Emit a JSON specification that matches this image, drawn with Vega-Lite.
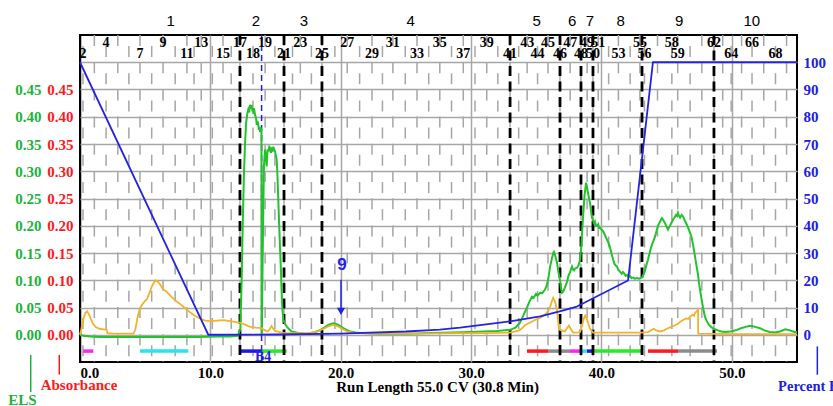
{
  "$schema": "https://vega.github.io/schema/vega-lite/v6.json",
  "width": 717,
  "height": 327,
  "autosize": "none",
  "padding": {"left": 80, "top": 35, "right": 36, "bottom": 44},
  "background": "white",
  "config": {
    "view": {"stroke": "#000000", "strokeWidth": 2},
    "axis": {"labelFont": "Liberation Serif", "labelFontWeight": "bold", "labelFontSize": 15, "domain": false, "ticks": false, "tickSize": 0}
  },
  "datasets": {
    "els": [
      {"cv":0,"v":0.0},{"cv":0.3,"v":-0.002},{"cv":0.8,"v":-0.003},{"cv":1.5,"v":-0.004},{"cv":3,"v":-0.004},{"cv":4.5,"v":-0.004},{"cv":6,"v":-0.004},{"cv":7.5,"v":-0.004},{"cv":9,"v":-0.004},{"cv":10.5,"v":-0.003},{"cv":11.5,"v":-0.003},{"cv":12.1,"v":-0.002},
      {"cv":12.3,"v":0.01},{"cv":12.4,"v":0.1},{"cv":12.48,"v":0.198},{"cv":12.57,"v":0.29},{"cv":12.66,"v":0.352},{"cv":12.75,"v":0.39},{"cv":12.83,"v":0.405},{"cv":12.91,"v":0.413},{"cv":12.98,"v":0.408},{"cv":13.04,"v":0.422},{"cv":13.1,"v":0.417},{"cv":13.17,"v":0.419},{"cv":13.23,"v":0.41},{"cv":13.27,"v":0.413},{"cv":13.31,"v":0.405},{"cv":13.35,"v":0.416},{"cv":13.42,"v":0.404},{"cv":13.5,"v":0.398},{"cv":13.56,"v":0.385},{"cv":13.6,"v":0.392},{"cv":13.66,"v":0.388},{"cv":13.72,"v":0.376},{"cv":13.76,"v":0.382},{"cv":13.82,"v":0.372},{"cv":13.86,"v":0.38},{"cv":13.92,"v":0.376},{"cv":13.93,"v":0.004},{"cv":13.95,"v":0.002},
      {"cv":14.01,"v":0.138},{"cv":14.06,"v":0.23},{"cv":14.11,"v":0.309},{"cv":14.19,"v":0.34},{"cv":14.25,"v":0.33},{"cv":14.32,"v":0.309},{"cv":14.36,"v":0.33},{"cv":14.4,"v":0.34},{"cv":14.46,"v":0.336},{"cv":14.52,"v":0.345},{"cv":14.58,"v":0.343},{"cv":14.65,"v":0.334},{"cv":14.71,"v":0.34},{"cv":14.77,"v":0.336},{"cv":14.83,"v":0.345},{"cv":14.9,"v":0.34},{"cv":14.96,"v":0.336},{"cv":15.02,"v":0.33},{"cv":15.09,"v":0.321},{"cv":15.15,"v":0.29},{"cv":15.21,"v":0.248},{"cv":15.28,"v":0.2},{"cv":15.34,"v":0.162},{"cv":15.41,"v":0.12},{"cv":15.47,"v":0.077},{"cv":15.53,"v":0.045},{"cv":15.6,"v":0.028},{"cv":15.72,"v":0.02},{"cv":15.86,"v":0.015},{"cv":16.05,"v":0.01},{"cv":16.24,"v":0.006},{"cv":16.6,"v":0.004},{"cv":16.88,"v":0.003},{"cv":17.3,"v":0.002},{"cv":17.64,"v":0.002},
      {"cv":17.9,"v":0.004},{"cv":18.16,"v":0.006},{"cv":18.45,"v":0.009},{"cv":18.67,"v":0.012},{"cv":18.85,"v":0.015},{"cv":19.05,"v":0.018},{"cv":19.25,"v":0.02},{"cv":19.43,"v":0.021},{"cv":19.62,"v":0.02},{"cv":19.82,"v":0.018},{"cv":20.0,"v":0.015},{"cv":20.2,"v":0.012},{"cv":20.45,"v":0.009},{"cv":20.7,"v":0.006},{"cv":21.1,"v":0.004},{"cv":21.5,"v":0.003},{"cv":23,"v":0.002},{"cv":25,"v":0.002},{"cv":27,"v":0.003},{"cv":28.5,"v":0.004},{"cv":30,"v":0.005},{"cv":31,"v":0.006},{"cv":32,"v":0.007},{"cv":33,"v":0.009},
      {"cv":33.4,"v":0.013},{"cv":33.75,"v":0.022},{"cv":34.0,"v":0.035},{"cv":34.29,"v":0.05},{"cv":34.5,"v":0.062},{"cv":34.67,"v":0.07},{"cv":34.8,"v":0.068},{"cv":34.98,"v":0.075},{"cv":35.1,"v":0.072},{"cv":35.29,"v":0.077},{"cv":35.45,"v":0.076},{"cv":35.67,"v":0.083},{"cv":35.8,"v":0.09},{"cv":35.9,"v":0.1},{"cv":36.0,"v":0.115},{"cv":36.06,"v":0.125},{"cv":36.2,"v":0.14},{"cv":36.3,"v":0.15},{"cv":36.36,"v":0.152},{"cv":36.45,"v":0.145},{"cv":36.59,"v":0.132},{"cv":36.7,"v":0.115},{"cv":36.82,"v":0.1},{"cv":36.9,"v":0.085},{"cv":36.97,"v":0.077},{"cv":37.05,"v":0.079},{"cv":37.12,"v":0.082},{"cv":37.25,"v":0.09},{"cv":37.36,"v":0.097},{"cv":37.47,"v":0.108},{"cv":37.59,"v":0.115},{"cv":37.66,"v":0.12},{"cv":37.74,"v":0.125},{"cv":37.82,"v":0.12},{"cv":37.9,"v":0.118},{"cv":38.0,"v":0.122},{"cv":38.13,"v":0.123},{"cv":38.25,"v":0.128},{"cv":38.36,"v":0.137},{"cv":38.45,"v":0.16},{"cv":38.52,"v":0.19},{"cv":38.59,"v":0.217},{"cv":38.7,"v":0.255},{"cv":38.82,"v":0.279},{"cv":38.9,"v":0.27},{"cv":38.97,"v":0.26},{"cv":39.05,"v":0.25},{"cv":39.12,"v":0.242},{"cv":39.2,"v":0.228},{"cv":39.27,"v":0.215},{"cv":39.35,"v":0.21},{"cv":39.43,"v":0.205},{"cv":39.5,"v":0.208},{"cv":39.58,"v":0.2},{"cv":39.66,"v":0.2},{"cv":39.75,"v":0.203},{"cv":39.82,"v":0.196},{"cv":39.89,"v":0.196},{"cv":40.0,"v":0.193},{"cv":40.12,"v":0.19},{"cv":40.25,"v":0.184},{"cv":40.35,"v":0.178},{"cv":40.43,"v":0.174},{"cv":40.55,"v":0.168},{"cv":40.66,"v":0.16},{"cv":40.78,"v":0.148},{"cv":40.89,"v":0.138},{"cv":41.0,"v":0.13},{"cv":41.1,"v":0.127},{"cv":41.19,"v":0.125},{"cv":41.3,"v":0.119},{"cv":41.42,"v":0.116},{"cv":41.55,"v":0.112},{"cv":41.65,"v":0.115},{"cv":41.73,"v":0.113},{"cv":41.85,"v":0.108},{"cv":41.96,"v":0.11},{"cv":42.08,"v":0.106},{"cv":42.19,"v":0.108},{"cv":42.3,"v":0.104},{"cv":42.42,"v":0.105},{"cv":42.55,"v":0.103},{"cv":42.73,"v":0.104},{"cv":42.9,"v":0.103},{"cv":43.11,"v":0.105},
      {"cv":43.22,"v":0.11},{"cv":43.34,"v":0.118},{"cv":43.45,"v":0.128},{"cv":43.57,"v":0.138},{"cv":43.7,"v":0.15},{"cv":43.8,"v":0.16},{"cv":43.95,"v":0.17},{"cv":44.11,"v":0.18},{"cv":44.22,"v":0.19},{"cv":44.34,"v":0.2},{"cv":44.5,"v":0.208},{"cv":44.64,"v":0.214},{"cv":44.75,"v":0.21},{"cv":44.87,"v":0.205},{"cv":45.0,"v":0.198},{"cv":45.1,"v":0.193},{"cv":45.18,"v":0.197},{"cv":45.26,"v":0.2},{"cv":45.38,"v":0.206},{"cv":45.49,"v":0.211},{"cv":45.6,"v":0.215},{"cv":45.72,"v":0.22},{"cv":45.8,"v":0.218},{"cv":45.87,"v":0.224},{"cv":45.95,"v":0.218},{"cv":46.03,"v":0.215},{"cv":46.15,"v":0.22},{"cv":46.26,"v":0.217},{"cv":46.38,"v":0.21},{"cv":46.49,"v":0.205},{"cv":46.65,"v":0.196},{"cv":46.8,"v":0.187},{"cv":46.92,"v":0.178},{"cv":47.03,"v":0.165},{"cv":47.1,"v":0.155},{"cv":47.18,"v":0.143},{"cv":47.3,"v":0.125},{"cv":47.41,"v":0.11},{"cv":47.48,"v":0.095},{"cv":47.56,"v":0.083},{"cv":47.68,"v":0.065},{"cv":47.79,"v":0.05},{"cv":47.94,"v":0.033},{"cv":48.1,"v":0.024},{"cv":48.25,"v":0.018},{"cv":48.48,"v":0.013},{"cv":48.7,"v":0.01},{"cv":48.94,"v":0.008},{"cv":49.2,"v":0.006},{"cv":49.48,"v":0.005},{"cv":49.9,"v":0.006},{"cv":50.4,"v":0.009},{"cv":50.7,"v":0.012},{"cv":51.0,"v":0.014},{"cv":51.3,"v":0.016},{"cv":51.55,"v":0.016},{"cv":51.85,"v":0.014},{"cv":52.16,"v":0.012},{"cv":52.5,"v":0.008},{"cv":52.9,"v":0.005},{"cv":53.3,"v":0.004},{"cv":53.7,"v":0.006},{"cv":54.1,"v":0.01},{"cv":54.46,"v":0.008},{"cv":54.8,"v":0.005},{"cv":55,"v":0.005}
    ],
    "absorbance": [
      {"cv":0,"v":0.0},{"cv":0.1,"v":0.01},{"cv":0.25,"v":0.028},{"cv":0.4,"v":0.04},{"cv":0.55,"v":0.043},{"cv":0.7,"v":0.037},{"cv":0.85,"v":0.028},{"cv":1.0,"v":0.02},{"cv":1.2,"v":0.014},{"cv":1.5,"v":0.011},{"cv":1.8,"v":0.01},{"cv":2.05,"v":0.009},{"cv":2.1,"v":0.003},{"cv":2.5,"v":0.002},{"cv":3.5,"v":0.002},{"cv":4.1,"v":0.002},
      {"cv":4.25,"v":0.01},{"cv":4.4,"v":0.03},{"cv":4.55,"v":0.045},{"cv":4.75,"v":0.055},{"cv":5.0,"v":0.062},{"cv":5.15,"v":0.066},{"cv":5.3,"v":0.075},{"cv":5.5,"v":0.088},{"cv":5.65,"v":0.095},{"cv":5.8,"v":0.1},{"cv":5.95,"v":0.098},{"cv":6.1,"v":0.094},{"cv":6.25,"v":0.088},{"cv":6.4,"v":0.083},{"cv":6.6,"v":0.08},{"cv":6.8,"v":0.075},{"cv":7.0,"v":0.07},{"cv":7.3,"v":0.063},{"cv":7.6,"v":0.058},{"cv":8.0,"v":0.05},{"cv":8.4,"v":0.042},{"cv":8.8,"v":0.035},{"cv":9.2,"v":0.03},{"cv":9.6,"v":0.026},{"cv":10.0,"v":0.025},{"cv":10.5,"v":0.026},{"cv":11.0,"v":0.027},{"cv":11.5,"v":0.025},{"cv":12.0,"v":0.023},{"cv":12.3,"v":0.022},{"cv":12.7,"v":0.018},{"cv":13.0,"v":0.015},{"cv":13.5,"v":0.013},{"cv":13.9,"v":0.012},{"cv":14.2,"v":0.008},{"cv":14.4,"v":0.006},{"cv":14.55,"v":0.01},{"cv":14.7,"v":0.016},{"cv":14.8,"v":0.012},{"cv":14.95,"v":0.007},{"cv":15.3,"v":0.005},{"cv":15.7,"v":0.003},{"cv":16.5,"v":0.003},{"cv":17.5,"v":0.003},
      {"cv":18.2,"v":0.006},{"cv":18.7,"v":0.011},{"cv":19.1,"v":0.016},{"cv":19.45,"v":0.018},{"cv":19.75,"v":0.016},{"cv":20.1,"v":0.011},{"cv":20.5,"v":0.006},{"cv":21.0,"v":0.003},{"cv":23,"v":0.002},{"cv":26,"v":0.002},{"cv":29,"v":0.003},{"cv":31,"v":0.003},{"cv":33.0,"v":0.004},
      {"cv":33.4,"v":0.006},{"cv":33.7,"v":0.008},{"cv":34.0,"v":0.014},{"cv":34.15,"v":0.018},{"cv":34.5,"v":0.022},{"cv":34.9,"v":0.027},{"cv":35.3,"v":0.031},{"cv":35.67,"v":0.037},{"cv":35.9,"v":0.043},{"cv":36.06,"v":0.051},{"cv":36.2,"v":0.062},{"cv":36.3,"v":0.068},{"cv":36.45,"v":0.06},{"cv":36.59,"v":0.046},{"cv":36.68,"v":0.025},{"cv":36.74,"v":0.01},{"cv":37.0,"v":0.007},{"cv":37.2,"v":0.006},{"cv":37.35,"v":0.012},{"cv":37.51,"v":0.017},{"cv":37.65,"v":0.01},{"cv":37.82,"v":0.004},{"cv":38.1,"v":0.004},{"cv":38.36,"v":0.005},{"cv":38.5,"v":0.015},{"cv":38.65,"v":0.03},{"cv":38.75,"v":0.035},{"cv":38.85,"v":0.03},{"cv":38.97,"v":0.022},{"cv":39.1,"v":0.012},{"cv":39.35,"v":0.004},{"cv":40,"v":0.004},{"cv":41,"v":0.004},{"cv":42,"v":0.004},{"cv":43,"v":0.004},
      {"cv":43.57,"v":0.005},{"cv":43.8,"v":0.008},{"cv":44.0,"v":0.011},{"cv":44.2,"v":0.008},{"cv":44.5,"v":0.006},{"cv":44.8,"v":0.008},{"cv":45.1,"v":0.012},{"cv":45.4,"v":0.015},{"cv":45.6,"v":0.017},{"cv":45.87,"v":0.02},{"cv":46.05,"v":0.024},{"cv":46.26,"v":0.027},{"cv":46.5,"v":0.03},{"cv":46.65,"v":0.029},{"cv":46.8,"v":0.033},{"cv":47.0,"v":0.037},{"cv":47.1,"v":0.035},{"cv":47.18,"v":0.04},{"cv":47.3,"v":0.043},{"cv":47.41,"v":0.046},{"cv":47.42,"v":0.002},{"cv":50,"v":0.001},{"cv":55,"v":0.001}
    ],
    "gradient": [
      {"cv":0,"pct":100},{"cv":9.84,"pct":0},{"cv":15,"pct":0.1},{"cv":20,"pct":0.4},{"cv":25,"pct":1.2},{"cv":27.6,"pct":1.9},{"cv":29.15,"pct":2.6},{"cv":30.68,"pct":3.5},{"cv":33,"pct":4.9},{"cv":35.3,"pct":6.7},{"cv":36.8,"pct":8.6},{"cv":38.05,"pct":10.2},{"cv":42.04,"pct":19.9},{"cv":43.95,"pct":100},{"cv":55,"pct":100}
    ],
    "fractions": [
      {"frac":2,"cv":0.23},{"frac":3,"cv":1.1},{"frac":4,"cv":2.0},{"frac":5,"cv":2.9},{"frac":6,"cv":3.75},{"frac":7,"cv":4.6},{"frac":8,"cv":5.5},{"frac":9,"cv":6.37},{"frac":10,"cv":7.3},{"frac":11,"cv":8.2},{"frac":12,"cv":8.75},{"frac":13,"cv":9.3},{"frac":14,"cv":10.15},{"frac":15,"cv":10.97},{"frac":16,"cv":11.6},{"frac":17,"cv":12.27},{"frac":18,"cv":13.27},{"frac":19,"cv":14.2},{"frac":20,"cv":14.95},{"frac":21,"cv":15.65},{"frac":22,"cv":16.3},{"frac":23,"cv":16.9},{"frac":24,"cv":17.75},{"frac":25,"cv":18.56},{"frac":26,"cv":19.55},{"frac":27,"cv":20.5},{"frac":28,"cv":21.45},{"frac":29,"cv":22.4},{"frac":30,"cv":23.2},{"frac":31,"cv":24.0},{"frac":32,"cv":24.95},{"frac":33,"cv":25.85},{"frac":34,"cv":26.75},{"frac":35,"cv":27.6},{"frac":36,"cv":28.5},{"frac":37,"cv":29.4},{"frac":38,"cv":30.3},{"frac":39,"cv":31.2},{"frac":40,"cv":32.05},{"frac":41,"cv":32.99},{"frac":42,"cv":33.65},{"frac":43,"cv":34.3},{"frac":44,"cv":35.1},{"frac":45,"cv":35.9},{"frac":46,"cv":36.82},{"frac":47,"cv":37.6},{"frac":48,"cv":38.43},{"frac":49,"cv":38.9},{"frac":50,"cv":39.35},{"frac":51,"cv":39.75},{"frac":52,"cv":40.55},{"frac":53,"cv":41.3},{"frac":54,"cv":42.2},{"frac":55,"cv":42.95},{"frac":56,"cv":43.3},{"frac":57,"cv":44.3},{"frac":58,"cv":45.4},{"frac":59,"cv":45.85},{"frac":60,"cv":46.8},{"frac":61,"cv":47.7},{"frac":62,"cv":48.63},{"frac":63,"cv":49.3},{"frac":64,"cv":49.95},{"frac":65,"cv":50.75},{"frac":66,"cv":51.55},{"frac":67,"cv":52.45},{"frac":68,"cv":53.35},{"frac":69,"cv":54.2}
    ],
    "poolBounds": [
      {"cv":12.27},{"cv":15.65},{"cv":18.56},{"cv":32.99},{"cv":36.82},{"cv":38.43},{"cv":39.35},{"cv":43.11},{"cv":48.63}
    ],
    "pools": [
      {"pool":"1","cv":6.96},{"pool":"2","cv":13.5},{"pool":"3","cv":17.18},{"pool":"4","cv":25.37},{"pool":"5","cv":35.03},{"pool":"6","cv":37.76},{"pool":"7","cv":39.12},{"pool":"8","cv":41.48},{"pool":"9","cv":45.97},{"pool":"10","cv":51.53}
    ],
    "trays": [
      {"tray":"A","start":0.25,"end":1.02},{"tray":"B","start":4.6,"end":8.31},{"tray":"C","start":12.33,"end":13.93},{"tray":"D","start":13.93,"end":15.85},
      {"tray":"E","start":34.29,"end":35.9},{"tray":"F","start":35.9,"end":37.59},{"tray":"A","start":37.59,"end":38.43},{"tray":"B","start":38.43,"end":38.89},{"tray":"C","start":38.89,"end":39.35},{"tray":"D","start":39.35,"end":43.11},{"tray":"E","start":43.57,"end":45.87},{"tray":"F","start":45.87,"end":48.86}
    ]
  },
  "layer": [
    {
      "layer": [
        {
          "data": {"name": "fractions"},
          "transform": [{"filter": "datum.frac % 2 === 1"}],
          "mark": {"type": "rule", "color": "#a6a6a6", "strokeWidth": 1.5, "strokeDash": [11, 16.2]},
          "encoding": {
            "x": {"field": "cv", "type": "quantitative", "scale": {"domain": [0, 55], "nice": false, "zero": false}, "axis": null},
            "y": {"datum": 0.55, "type": "quantitative", "scale": {"domain": [-0.05, 0.55], "nice": false, "zero": false}, "axis": null},
            "y2": {"datum": -0.05}
          }
        },
        {
          "data": {"name": "fractions"},
          "transform": [{"filter": "datum.frac % 2 === 0"}],
          "mark": {"type": "rule", "color": "#a6a6a6", "strokeWidth": 1.5, "strokeDash": [11, 16.2], "strokeDashOffset": 16.2},
          "encoding": {
            "x": {"field": "cv", "type": "quantitative", "scale": {"domain": [0, 55], "nice": false, "zero": false}, "axis": null},
            "y": {"datum": 0.55, "type": "quantitative", "scale": {"domain": [-0.05, 0.55], "nice": false, "zero": false}, "axis": null},
            "y2": {"datum": -0.05}
          }
        },
        {
          "data": {"name": "trays"},
          "mark": {"type": "rule", "strokeWidth": 3.5},
          "encoding": {
            "x": {"field": "start", "type": "quantitative", "scale": {"domain": [0, 55], "nice": false, "zero": false}, "axis": null},
            "x2": {"field": "end"},
            "y": {"datum": -0.03, "type": "quantitative", "scale": {"domain": [-0.05, 0.55], "nice": false, "zero": false}, "axis": null},
            "color": {"field": "tray", "type": "nominal", "legend": null, "scale": {"domain": ["A", "B", "C", "D", "E", "F"], "range": ["#ff22ff", "#22e6f2", "#1a1ae6", "#22ee22", "#ff1a1a", "#8c8c8c"]}}
          }
        },
        {
          "data": {"name": "poolBounds"},
          "mark": {"type": "rule", "color": "#000000", "strokeWidth": 2.8, "strokeDash": [10, 5.5]},
          "encoding": {
            "x": {"field": "cv", "type": "quantitative", "scale": {"domain": [0, 55], "nice": false, "zero": false}, "axis": null},
            "y": {"datum": 0.55, "type": "quantitative", "scale": {"domain": [-0.05, 0.55], "nice": false, "zero": false}, "axis": null},
            "y2": {"datum": -0.05}
          }
        },
        {
          "data": {"values": [{}]},
          "mark": {"type": "rule", "color": "#2323e6", "strokeWidth": 1.5, "strokeDash": [6, 4]},
          "encoding": {
            "x": {"datum": 13.93, "type": "quantitative", "scale": {"domain": [0, 55], "nice": false, "zero": false}, "axis": null},
            "y": {"datum": 0.55, "type": "quantitative", "scale": {"domain": [-0.05, 0.55], "nice": false, "zero": false}, "axis": null},
            "y2": {"datum": -0.05}
          }
        },
        {
          "data": {"name": "fractions"},
          "transform": [{"filter": {"field": "frac", "oneOf": [4, 9, 13, 17, 19, 23, 27, 31, 35, 39, 43, 45, 47, 49, 51, 55, 58, 62, 66]}}],
          "mark": {"type": "text", "font": "Liberation Serif", "fontWeight": "bold", "fontSize": 14, "color": "#000000", "baseline": "middle", "align": "center"},
          "encoding": {
            "x": {"field": "cv", "type": "quantitative", "scale": {"domain": [0, 55], "nice": false, "zero": false}, "axis": null},
            "y": {"datum": 0.5345, "type": "quantitative", "scale": {"domain": [-0.05, 0.55], "nice": false, "zero": false}, "axis": null},
            "text": {"field": "frac", "type": "nominal"}
          }
        },
        {
          "data": {"name": "fractions"},
          "transform": [{"filter": {"field": "frac", "oneOf": [2, 7, 11, 15, 18, 21, 25, 29, 33, 37, 41, 44, 46, 48, 50, 53, 56, 59, 64, 68]}}],
          "mark": {"type": "text", "font": "Liberation Serif", "fontWeight": "bold", "fontSize": 14, "color": "#000000", "baseline": "middle", "align": "center"},
          "encoding": {
            "x": {"field": "cv", "type": "quantitative", "scale": {"domain": [0, 55], "nice": false, "zero": false}, "axis": null},
            "y": {"datum": 0.5145, "type": "quantitative", "scale": {"domain": [-0.05, 0.55], "nice": false, "zero": false}, "axis": null},
            "text": {"field": "frac", "type": "nominal"}
          }
        },
        {
          "data": {"name": "pools"},
          "mark": {"type": "text", "font": "Liberation Sans", "fontSize": 15, "color": "#000000", "baseline": "middle", "align": "center"},
          "encoding": {
            "x": {"field": "cv", "type": "quantitative", "scale": {"domain": [0, 55], "nice": false, "zero": false}, "axis": null},
            "y": {"datum": 0.576, "type": "quantitative", "scale": {"domain": [-0.05, 0.55], "nice": false, "zero": false}, "axis": null},
            "text": {"field": "pool", "type": "nominal"}
          }
        },
        {
          "data": {"values": [{}]},
          "mark": {"type": "rule", "color": "#2323e6", "strokeWidth": 1.5},
          "encoding": {
            "x": {"datum": 20.02, "type": "quantitative", "scale": {"domain": [0, 55], "nice": false, "zero": false}, "axis": null},
            "y": {"datum": 0.101, "type": "quantitative", "scale": {"domain": [-0.05, 0.55], "nice": false, "zero": false}, "axis": null},
            "y2": {"datum": 0.048}
          }
        },
        {
          "data": {"values": [{}]},
          "mark": {"type": "point", "shape": "triangle-down", "filled": true, "color": "#2323e6", "size": 70, "opacity": 1},
          "encoding": {
            "x": {"datum": 20.02, "type": "quantitative", "scale": {"domain": [0, 55], "nice": false, "zero": false}, "axis": null},
            "y": {"datum": 0.043, "type": "quantitative", "scale": {"domain": [-0.05, 0.55], "nice": false, "zero": false}, "axis": null}
          }
        },
        {
          "data": {"values": [{}]},
          "mark": {"type": "text", "text": "9", "font": "Liberation Sans", "fontWeight": "bold", "fontSize": 17, "color": "#2323e6", "baseline": "middle", "align": "center"},
          "encoding": {
            "x": {"datum": 20.1, "type": "quantitative", "scale": {"domain": [0, 55], "nice": false, "zero": false}, "axis": null},
            "y": {"datum": 0.1285, "type": "quantitative", "scale": {"domain": [-0.05, 0.55], "nice": false, "zero": false}, "axis": null}
          }
        },
        {
          "data": {"values": [{}]},
          "mark": {"type": "text", "text": "B4", "font": "Liberation Serif", "fontWeight": "bold", "fontSize": 14, "color": "#2323e6", "baseline": "middle", "align": "center"},
          "encoding": {
            "x": {"datum": 14.05, "type": "quantitative", "scale": {"domain": [0, 55], "nice": false, "zero": false}, "axis": null},
            "y": {"datum": -0.041, "type": "quantitative", "scale": {"domain": [-0.05, 0.55], "nice": false, "zero": false}, "axis": null}
          }
        },
        {
          "data": {"values": [{}]},
          "mark": {"type": "text", "text": "Run Length 55.0 CV (30.8 Min)", "font": "Liberation Serif", "fontWeight": "bold", "fontSize": 15, "color": "#000000", "baseline": "middle", "align": "center"},
          "encoding": {
            "x": {"datum": 27.43, "type": "quantitative", "scale": {"domain": [0, 55], "nice": false, "zero": false}, "axis": null},
            "y": {"datum": -0.095, "type": "quantitative", "scale": {"domain": [-0.05, 0.55], "nice": false, "zero": false}, "axis": null}
          }
        },
        {
          "data": {"values": [{}]},
          "mark": {"type": "text", "text": "ELS", "font": "Liberation Serif", "fontWeight": "bold", "fontSize": 15, "color": "#1db33a", "baseline": "middle", "align": "center"},
          "encoding": {
            "x": {"datum": -4.41, "type": "quantitative", "scale": {"domain": [0, 55], "nice": false, "zero": false}, "axis": null},
            "y": {"datum": -0.12, "type": "quantitative", "scale": {"domain": [-0.05, 0.55], "nice": false, "zero": false}, "axis": null}
          }
        },
        {
          "data": {"values": [{}]},
          "mark": {"type": "rule", "color": "#1db33a", "strokeWidth": 1.5},
          "encoding": {
            "x": {"datum": -3.78, "type": "quantitative", "scale": {"domain": [0, 55], "nice": false, "zero": false}, "axis": null},
            "y": {"datum": -0.037, "type": "quantitative", "scale": {"domain": [-0.05, 0.55], "nice": false, "zero": false}, "axis": null},
            "y2": {"datum": -0.105}
          }
        },
        {
          "data": {"values": [{}]},
          "mark": {"type": "text", "text": "Absorbance", "font": "Liberation Serif", "fontWeight": "bold", "fontSize": 15, "color": "#ff1a1a", "baseline": "middle", "align": "center"},
          "encoding": {
            "x": {"datum": -0.08, "type": "quantitative", "scale": {"domain": [0, 55], "nice": false, "zero": false}, "axis": null},
            "y": {"datum": -0.093, "type": "quantitative", "scale": {"domain": [-0.05, 0.55], "nice": false, "zero": false}, "axis": null}
          }
        },
        {
          "data": {"values": [{}]},
          "mark": {"type": "rule", "color": "#ff1a1a", "strokeWidth": 1.5},
          "encoding": {
            "x": {"datum": -1.59, "type": "quantitative", "scale": {"domain": [0, 55], "nice": false, "zero": false}, "axis": null},
            "y": {"datum": -0.037, "type": "quantitative", "scale": {"domain": [-0.05, 0.55], "nice": false, "zero": false}, "axis": null},
            "y2": {"datum": -0.073}
          }
        },
        {
          "data": {"values": [{}]},
          "mark": {"type": "text", "text": "Percent B", "font": "Liberation Serif", "fontWeight": "bold", "fontSize": 14.5, "color": "#2020dd", "baseline": "middle", "align": "left"},
          "encoding": {
            "x": {"datum": 53.55, "type": "quantitative", "scale": {"domain": [0, 55], "nice": false, "zero": false}, "axis": null},
            "y": {"datum": -0.095, "type": "quantitative", "scale": {"domain": [-0.05, 0.55], "nice": false, "zero": false}, "axis": null}
          }
        },
        {
          "data": {"values": [{}]},
          "mark": {"type": "rule", "color": "#2020dd", "strokeWidth": 1.5},
          "encoding": {
            "x": {"datum": 56.56, "type": "quantitative", "scale": {"domain": [0, 55], "nice": false, "zero": false}, "axis": null},
            "y": {"datum": -0.0214, "type": "quantitative", "scale": {"domain": [-0.05, 0.55], "nice": false, "zero": false}, "axis": null},
            "y2": {"datum": -0.0734}
          }
        }
      ]
    },
    {
      "data": {"name": "els"},
      "mark": {"type": "line", "color": "#22c32a", "strokeWidth": 2},
      "encoding": {
        "x": {"field": "cv", "type": "quantitative", "scale": {"domain": [0, 55], "nice": false, "zero": false},
          "axis": {"orient": "bottom", "title": null, "values": [0, 10, 20, 30, 40, 50], "format": ".1f", "grid": true, "gridColor": {"condition": {"test": "datum.value === 0", "value": "#000000"}, "value": "#a6a6a6"}, "gridWidth": 1.5, "labelColor": "#000000", "labelPadding": 3}},
        "y": {"field": "v", "type": "quantitative", "scale": {"domain": [-0.05, 0.55], "nice": false, "zero": false},
          "axis": {"orient": "left", "title": null, "offset": 39, "values": [0, 0.05, 0.1, 0.15, 0.2, 0.25, 0.3, 0.35, 0.4, 0.45], "format": ".2f", "labelColor": "#1db33a", "grid": false, "labelPadding": 0}}
      }
    },
    {
      "data": {"name": "absorbance"},
      "mark": {"type": "line", "color": "#f2b32a", "strokeWidth": 1.8},
      "encoding": {
        "x": {"field": "cv", "type": "quantitative", "scale": {"domain": [0, 55], "nice": false, "zero": false}, "axis": null},
        "y": {"field": "v", "type": "quantitative", "scale": {"domain": [-0.05, 0.55], "nice": false, "zero": false},
          "axis": {"orient": "left", "title": null, "offset": 7, "values": [0, 0.05, 0.1, 0.15, 0.2, 0.25, 0.3, 0.35, 0.4, 0.45], "format": ".2f", "labelColor": "#ff1a1a", "grid": false, "labelPadding": 0}}
      }
    },
    {
      "data": {"name": "gradient"},
      "mark": {"type": "line", "color": "#2323e6", "strokeWidth": 1.8},
      "encoding": {
        "x": {"field": "cv", "type": "quantitative", "scale": {"domain": [0, 55], "nice": false, "zero": false}, "axis": null},
        "y": {"field": "pct", "type": "quantitative", "scale": {"domain": [-10, 110], "nice": false, "zero": false},
          "axis": {"orient": "right", "title": null, "values": [0, 10, 20, 30, 40, 50, 60, 70, 80, 90, 100], "format": "d", "labelColor": "#2020dd", "grid": true, "gridColor": "#a6a6a6", "gridWidth": 1.5, "labelPadding": 6}}
      }
    }
  ],
  "resolve": {"scale": {"y": "independent"}, "axis": {"x": "independent", "y": "independent"}}
}
